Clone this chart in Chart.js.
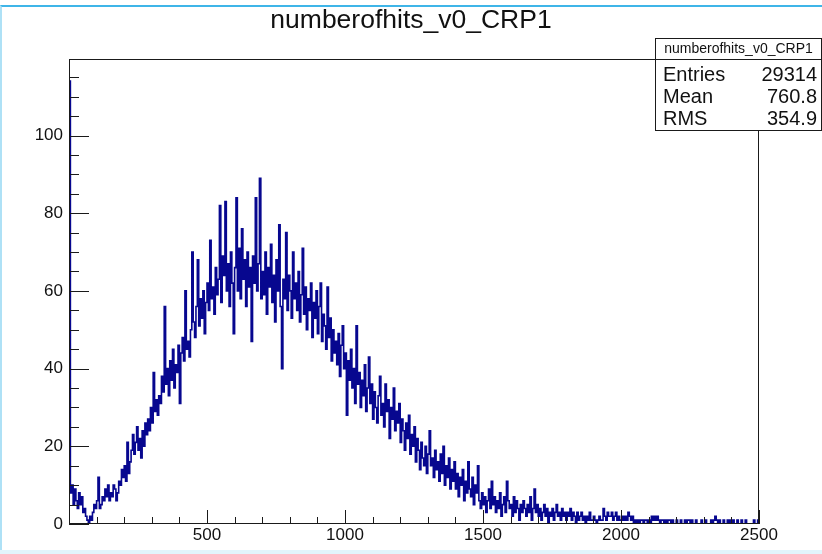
<!DOCTYPE html>
<html>
<head>
<meta charset="utf-8">
<script src="https://cdn.jsdelivr.net/npm/chart.js@4.4.1/dist/chart.umd.min.js"></script>
<style>
  html, body { margin: 0; padding: 0; background: #ffffff; }
  #wrap { position: relative; width: 822px; height: 554px; overflow: hidden; background: #fff; }
  #c { position: absolute; left: 0; top: 0; }
  #frame { position: absolute; left: 0; top: 5px; width: 822px; height: 546px; box-sizing: border-box;
           border-top: 2px solid #3fb5e8; border-left: 2px solid #aee1f6; pointer-events: none; }
  #bottomstrip { position: absolute; left: 0; top: 550px; width: 822px; height: 4px; background: #e2f4fc; pointer-events: none; }
</style>
</head>
<body>
<div id="wrap">
  <canvas id="c" width="822" height="554"></canvas>
  <div id="frame"></div>
  <div id="bottomstrip"></div>
</div>
<script>
// ---- data ----
const chartTitle = 'numberofhits_v0_CRP1';
const binWidth = 5;          // bin width in "number of hits"
const xMin = 0, xMax = 2500;
const yMax = 119.7;
const xTickValues = [500, 1000, 1500, 2000, 2500];
const yTickValues = [0, 20, 40, 60, 80, 100];
const statLabels = ['Entries', 'Mean', 'RMS'];
const statValues = ['29314', '760.8', '354.9'];

// bin contents, bins of width 5 starting at 0 (20 bins per row = 100 units)
const counts = [
  114, 8, 10, 5, 9, 6, 4, 8, 5, 7, 3, 4, 2, 1, 0, 2, 1, 3, 5, 4,
  6, 12, 4, 5, 7, 6, 9, 7, 10, 6, 8, 7, 10, 9, 6, 8, 11, 10, 14, 12,
  15, 11, 21, 13, 16, 19, 23, 18, 21, 25, 19, 22, 17, 24, 20, 26, 23, 27, 24, 30,
  26, 39, 29, 32, 28, 33, 31, 38, 34, 56, 36, 40, 33, 42, 37, 45, 35, 41, 39, 46,
  31, 44, 48, 42, 60, 45, 47, 43, 50, 70, 52, 48, 56, 68, 51, 58, 53, 60, 49, 57,
  62, 55, 73, 58, 61, 54, 66, 59, 63, 82, 57, 69, 64, 83, 60, 67, 56, 70, 62, 49,
  66, 84, 60, 71, 58, 76, 63, 68, 56, 70, 61, 66, 47, 69, 62, 84, 60, 67, 89, 58,
  65, 59, 70, 54, 66, 61, 72, 57, 64, 52, 68, 60, 77, 56, 40, 63, 58, 75, 55, 64,
  60, 53, 70, 58, 62, 55, 65, 52, 59, 71, 54, 61, 50, 58, 55, 62, 48, 57, 53, 60,
  49, 56, 62, 47, 54, 51, 45, 61, 48, 53, 42, 50, 44, 47, 41, 49, 38, 46, 51, 40,
  44, 28, 42, 37, 45, 35, 40, 31, 51, 36, 39, 30, 37, 33, 41, 29, 35, 43, 31, 36,
  27, 34, 30, 26, 33, 38, 28, 31, 25, 36, 29, 32, 22, 30, 27, 35, 24, 29, 26, 31,
  21, 27, 24, 19, 26, 22, 28, 18, 23, 20, 25, 16, 22, 19, 14, 21, 17, 15, 20, 13,
  18, 24, 15, 17, 12, 19, 14, 16, 11, 18, 13, 20, 10, 15, 12, 17, 9, 14, 11, 16,
  9, 13, 7, 12, 10, 14, 6, 11, 8, 16, 9, 7, 12, 5, 10, 8, 15, 6, 4, 8,
  5, 7, 3, 6, 9, 4, 11, 5, 7, 3, 6, 4, 8, 2, 5, 7, 3, 11, 6, 4,
  5, 2, 7, 3, 6, 4, 1, 5, 3, 6, 4, 2, 5, 3, 7, 1, 4, 9, 3, 5,
  2, 4, 1, 3, 5, 2, 4, 0, 3, 2, 4, 1, 3, 5, 2, 3, 1, 4, 2, 3,
  1, 3, 2, 4, 1, 3, 2, 0, 3, 1, 2, 3, 1, 2, 0, 2, 1, 3, 1, 1,
  2, 1, 0, 1, 2, 1, 1, 4, 2, 1, 3, 2, 2, 3, 1, 2, 3, 1, 2, 1,
  1, 2, 1, 2, 1, 3, 2, 1, 2, 0, 1, 0, 1, 0, 1, 1, 0, 1, 1, 0,
  1, 0, 2, 1, 2, 1, 2, 1, 0, 1, 1, 0, 1, 0, 1, 1, 0, 1, 0, 0,
  1, 0, 0, 1, 0, 0, 1, 0, 1, 1, 0, 1, 0, 0, 1, 0, 0, 0, 1, 0,
  0, 1, 0, 0, 0, 1, 0, 1, 2, 1, 0, 1, 0, 0, 1, 0, 0, 1, 0, 1,
  0, 1, 0, 0, 1, 0, 0, 1, 0, 0, 1, 0, 0, 0, 0, 0, 1, 0, 0, 1
];

// ---- build step outline points from the bins ----
const points = [{ x: xMin, y: 0 }];
counts.forEach((c, i) => points.push({ x: xMin + i * binWidth, y: c }));
points.push({ x: xMax, y: counts[counts.length - 1] });
points.push({ x: xMax, y: 0 });

const FONT = "'Liberation Sans', Arial, Helvetica, sans-serif";
const TXT = '#111111';

const rootDecor = {
  id: 'rootDecor',
  afterDatasetsDraw(chart) {
    const { ctx, chartArea: a, scales } = chart;
    const xs = scales.x, ys = scales.y;
    ctx.save();
    ctx.strokeStyle = '#1a1a1a';
    ctx.lineWidth = 1;
    // frame
    ctx.strokeRect(Math.round(a.left) + 0.5, Math.round(a.top) + 0.5,
                   Math.round(a.right - a.left) - 1, Math.round(a.bottom - a.top) - 1);
    // x ticks (inside, pointing up)
    ctx.beginPath();
    for (let v = xMin; v <= xMax; v += 100) {
      const px = Math.round(xs.getPixelForValue(v)) + 0.5;
      const len = (v % 500 === 0) ? 14 : 7;
      ctx.moveTo(px, a.bottom);
      ctx.lineTo(px, a.bottom - len);
    }
    // y ticks (inside, pointing right)
    for (let v = 0; v <= yMax; v += 5) {
      const py = Math.round(ys.getPixelForValue(v)) + 0.5;
      const len = (v % 20 === 0) ? 20 : 10;
      ctx.moveTo(a.left, py);
      ctx.lineTo(a.left + len, py);
    }
    ctx.stroke();

    // title, centred on the canvas
    ctx.fillStyle = TXT;
    ctx.textBaseline = 'middle';
    ctx.textAlign = 'center';
    ctx.font = '26.5px ' + FONT;
    ctx.fillText(chartTitle, 411, 21);

    // statistics box
    const bx = 655.5, by = 38.5, bw = 166, bh = 92;
    const headerBottom = 59.5;
    ctx.fillStyle = '#ffffff';
    ctx.fillRect(bx, by, bw, bh);
    ctx.strokeRect(bx, by, bw, bh);
    ctx.beginPath();
    ctx.moveTo(bx, headerBottom);
    ctx.lineTo(bx + bw, headerBottom);
    ctx.stroke();
    ctx.fillStyle = TXT;
    ctx.textAlign = 'center';
    ctx.font = '14px ' + FONT;
    ctx.fillText(chartTitle, bx + bw / 2, 49);
    ctx.font = '20px ' + FONT;
    const rowY = [75, 97, 119];
    statLabels.forEach((lab, i) => {
      ctx.textAlign = 'left';
      ctx.fillText(lab, 663, rowY[i]);
      ctx.textAlign = 'right';
      ctx.fillText(statValues[i], 817, rowY[i]);
    });
    ctx.restore();
  }
};

new Chart(document.getElementById('c'), {
  type: 'line',
  data: {
    datasets: [{
      data: points,
      stepped: true,
      borderColor: '#07078f',
      borderWidth: 1.6,
      pointRadius: 0,
      fill: false,
      tension: 0
    }]
  },
  options: {
    responsive: false,
    animation: false,
    events: [],
    layout: { padding: { left: 0, right: 63, top: 59, bottom: 0 } },
    plugins: {
      legend: { display: false },
      tooltip: { enabled: false },
      title: { display: false }
    },
    scales: {
      x: {
        type: 'linear',
        min: xMin,
        max: xMax,
        afterFit: (s) => { s.height = 30; },
        afterBuildTicks: (s) => { s.ticks = xTickValues.map(v => ({ value: v })); },
        grid: { display: false, drawTicks: false },
        border: { display: false },
        ticks: {
          autoSkip: false,
          maxRotation: 0,
          padding: 1,
          color: TXT,
          font: { family: FONT, size: 17 },
          callback: (v) => String(v)
        }
      },
      y: {
        type: 'linear',
        min: 0,
        max: yMax,
        afterFit: (s) => { s.width = 69; },
        afterBuildTicks: (s) => { s.ticks = yTickValues.map(v => ({ value: v })); },
        grid: { display: false, drawTicks: false },
        border: { display: false },
        ticks: {
          autoSkip: false,
          padding: 6,
          color: TXT,
          font: { family: FONT, size: 17 },
          callback: (v) => String(v)
        }
      }
    }
  },
  plugins: [rootDecor]
});
</script>
</body>
</html>
